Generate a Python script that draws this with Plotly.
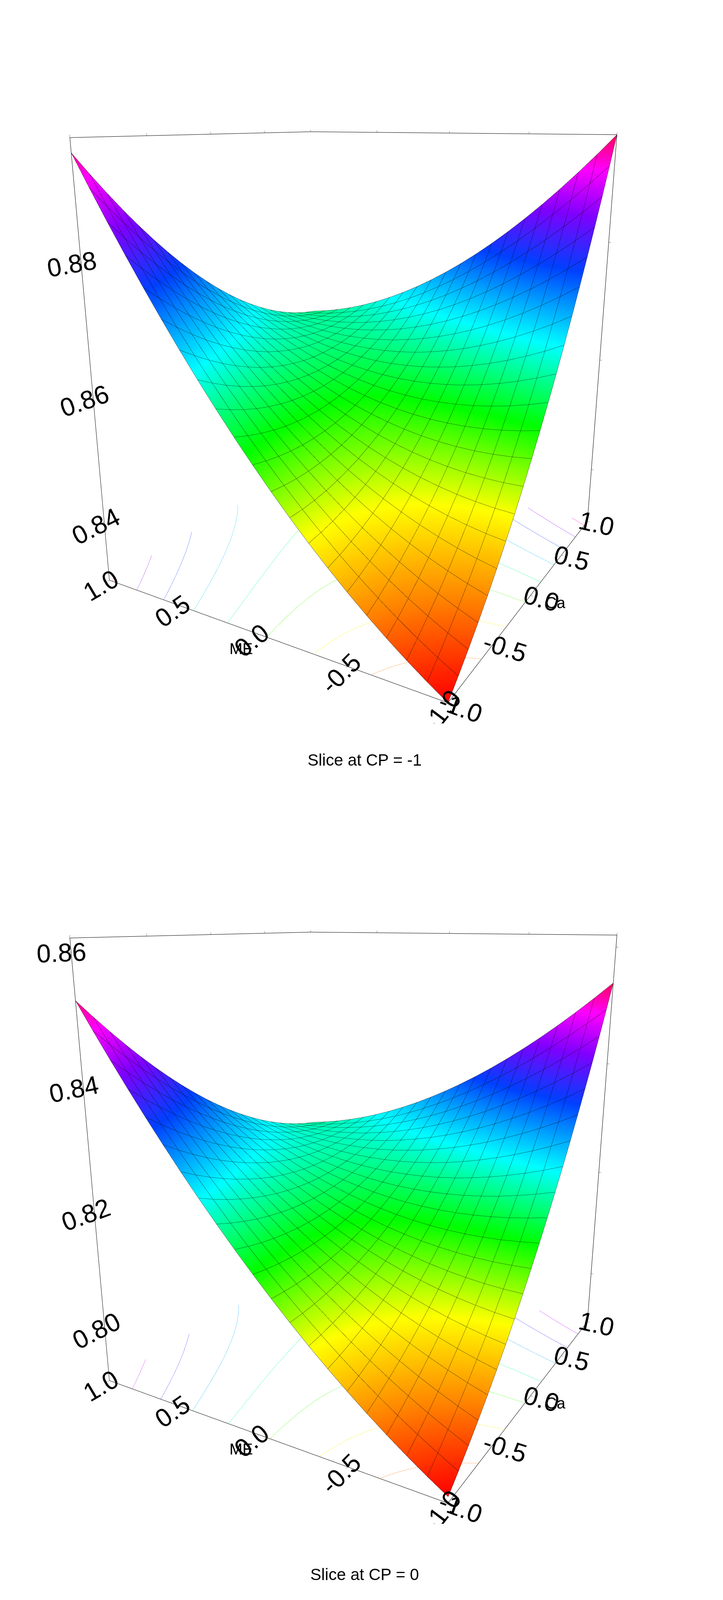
import plotly.graph_objects as go
import numpy as np

# fitted response-surface coefficients: z = a + b*ME + c*Ca + d*ME*Ca + e*ME^2 + f*Ca^2
slice_titles = ["Slice at CP = -1", "Slice at CP = 0"]
coef_a = [0.857, 0.818]
coef_b = [0.0075, 0.0075]
coef_c = [0.0085, 0.0080]
coef_d = [-0.025, -0.0235]
coef_e = [0.007, 0.006]
coef_f = [0.007, 0.006]
z_ranges = [[0.83, 0.897], [0.79, 0.862]]
z_ticks = [[0.84, 0.86, 0.88], [0.80, 0.82, 0.84, 0.86]]
axis_ticks = [-1.0, -0.5, 0.0, 0.5, 1.0]

grid = np.linspace(-1, 1, 21)
ME, CA = np.meshgrid(grid, grid, indexing="ij")

rainbow = [[0, "#ff0000"], [0.12, "#ff8000"], [0.25, "#ffff00"], [0.4, "#00ff00"],
           [0.55, "#00ffff"], [0.7, "#0040ff"], [0.82, "#8000ff"], [0.92, "#ff00ff"], [1, "#ff0060"]]

fig = go.Figure()
domains = [[0.55, 1.0], [0.05, 0.50]]
for i in range(2):
    Z = (coef_a[i] + coef_b[i]*ME + coef_c[i]*CA + coef_d[i]*ME*CA
         + coef_e[i]*ME**2 + coef_f[i]*CA**2)
    scene = "scene" if i == 0 else "scene2"
    fig.add_trace(go.Surface(
        x=grid, y=grid, z=Z, scene=scene, colorscale=rainbow, showscale=False,
        lighting=dict(ambient=1, diffuse=0, specular=0, fresnel=0),
        contours=dict(
            x=dict(show=True, start=-1, end=1, size=0.1, color="black", width=3),
            y=dict(show=True, start=-1, end=1, size=0.1, color="black", width=3),
            z=dict(show=True, project_z=True, usecolormap=True,
                   start=z_ranges[i][0], end=z_ranges[i][1], size=0.008, width=4))))
    ax = dict(showbackground=False, showgrid=False, zeroline=False, showline=True,
              linecolor="black", linewidth=2, mirror="all", ticks="outside", tickcolor="black",
              showspikes=False, tickfont=dict(size=28, color="black"))
    tf = dict(size=40, color="black")
    fig.update_layout(**{scene: dict(
        domain=dict(x=[0.02, 0.98], y=domains[i]),
        xaxis=dict(ax, title=dict(text="Ca", font=tf), range=[-1, 1], tickvals=axis_ticks,
                   ticktext=[f"{v:.1f}" for v in axis_ticks]),
        yaxis=dict(ax, title=dict(text="ME", font=tf), range=[-1, 1], tickvals=axis_ticks,
                   ticktext=[f"{v:.1f}" for v in axis_ticks]),
        zaxis=dict(ax, title=dict(text=""), range=z_ranges[i], tickvals=z_ticks[i],
                   ticktext=[f"{v:.2f}" for v in z_ticks[i]]),
        aspectmode="manual", aspectratio=dict(x=1, y=1, z=1.15),
        camera=dict(eye=dict(x=-1.95, y=-1.15, z=0.62), center=dict(x=0, y=0, z=-0.02)))})
    fig.add_annotation(text=slice_titles[i], x=0.5, y=[0.527, 0.012][i], xref="paper",
                       yref="paper", showarrow=False, font=dict(size=42, color="black"))

fig.update_layout(width=1850, height=4097, paper_bgcolor="white",
                  font=dict(family="Liberation Sans"), margin=dict(l=0, r=0, t=0, b=0))
fig.write_html("out.html")
